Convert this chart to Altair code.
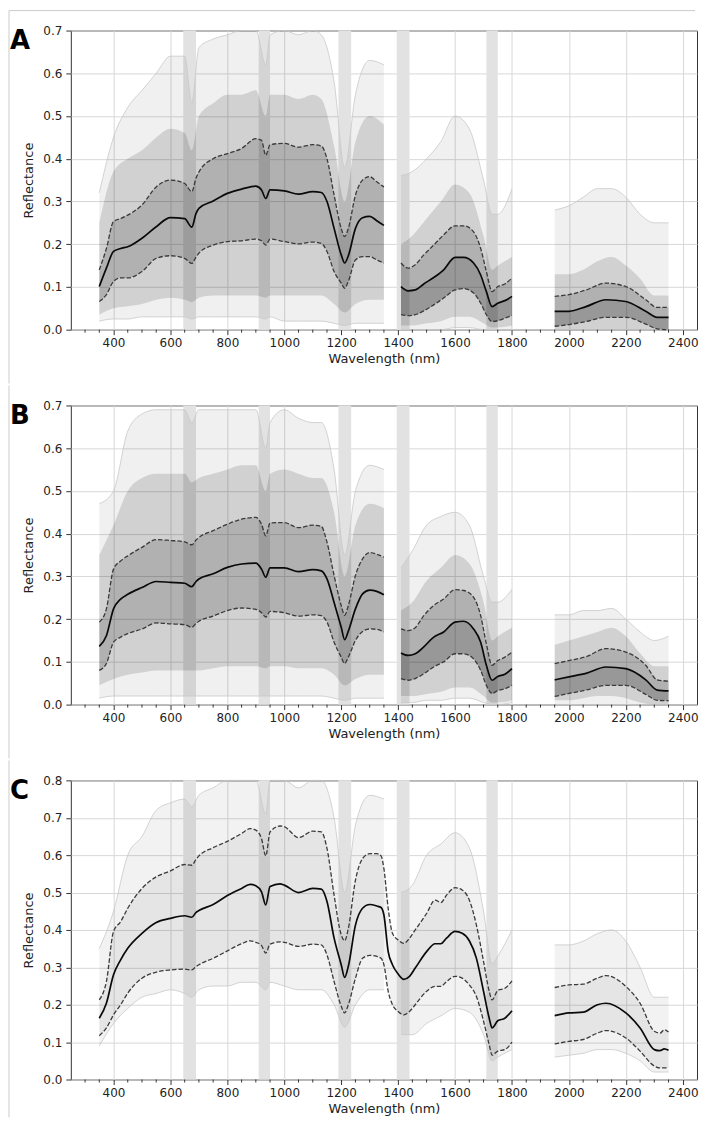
import altair as alt
import pandas as pd

# ---------------- data ----------------
X_TICKS = [400, 600, 800, 1000, 1200, 1400, 1600, 1800, 2000, 2200, 2400]
X_MINOR = [300, 350, 450, 500, 550, 650, 700, 750, 850, 900, 950, 1050, 1100, 1150,
           1250, 1300, 1350, 1450, 1500, 1550, 1650, 1700, 1750, 1850, 1900, 1950,
           2050, 2100, 2150, 2250, 2300, 2350]
BAND_START = [645, 910, 1190, 1395, 1710]
BAND_END = [690, 950, 1235, 1440, 1750]

WL_S1 = [350, 375, 400, 425, 450, 500, 550, 600, 650, 675, 690, 700, 750, 800, 850,
         900, 920, 935, 950, 1000, 1050, 1100, 1130, 1150, 1175, 1200, 1212, 1225,
         1250, 1275, 1300, 1325, 1350]
WL_S2 = [1410, 1435, 1460, 1490, 1525, 1560, 1600, 1630, 1665, 1690, 1710, 1730, 1750, 1775, 1800]
WL_S3 = [1950, 2000, 2060, 2130, 2200, 2270, 2310, 2350]

A_MEAN_S1 = [0.101, 0.144, 0.183, 0.190, 0.194, 0.214, 0.241, 0.262, 0.260, 0.240, 0.272, 0.284,
             0.301, 0.319, 0.329, 0.336, 0.327, 0.307, 0.327, 0.325, 0.317, 0.323, 0.321, 0.300,
             0.237, 0.175, 0.156, 0.173, 0.237, 0.262, 0.265, 0.255, 0.244]
A_UP_S1 = [0.140, 0.190, 0.253, 0.260, 0.268, 0.292, 0.334, 0.350, 0.342, 0.323, 0.355, 0.369,
           0.400, 0.412, 0.424, 0.447, 0.443, 0.408, 0.433, 0.436, 0.427, 0.433, 0.430, 0.400,
           0.315, 0.237, 0.218, 0.237, 0.315, 0.350, 0.358, 0.346, 0.334]
A_LO_S1 = [0.066, 0.082, 0.113, 0.121, 0.121, 0.136, 0.167, 0.173, 0.167, 0.155, 0.170, 0.179,
           0.198, 0.206, 0.208, 0.212, 0.208, 0.198, 0.212, 0.206, 0.201, 0.205, 0.202, 0.183,
           0.136, 0.109, 0.097, 0.113, 0.163, 0.171, 0.171, 0.163, 0.156]
A_MEAN_S2 = [0.101, 0.091, 0.093, 0.107, 0.122, 0.140, 0.169, 0.169, 0.156, 0.128, 0.089, 0.054, 0.062, 0.068, 0.078]
A_UP_S2 = [0.156, 0.144, 0.152, 0.175, 0.198, 0.222, 0.243, 0.243, 0.229, 0.190, 0.136, 0.089, 0.101, 0.107, 0.121]
A_LO_S2 = [0.035, 0.033, 0.035, 0.044, 0.058, 0.074, 0.093, 0.096, 0.086, 0.062, 0.035, 0.019, 0.021, 0.027, 0.033]
A_MEAN_S3 = [0.043, 0.043, 0.054, 0.070, 0.066, 0.043, 0.029, 0.029]
A_UP_S3 = [0.078, 0.082, 0.093, 0.109, 0.101, 0.070, 0.052, 0.052]
A_LO_S3 = [0.008, 0.012, 0.019, 0.029, 0.029, 0.013, 0.002, 0.000]

B_MEAN_S1 = [0.136, 0.161, 0.224, 0.247, 0.258, 0.274, 0.288, 0.286, 0.284, 0.276, 0.288, 0.294,
             0.306, 0.321, 0.329, 0.331, 0.317, 0.298, 0.320, 0.320, 0.311, 0.316, 0.313, 0.294,
             0.239, 0.181, 0.152, 0.172, 0.224, 0.259, 0.268, 0.265, 0.257]
B_UP_S1 = [0.193, 0.224, 0.317, 0.336, 0.348, 0.368, 0.386, 0.384, 0.381, 0.374, 0.385, 0.391,
           0.407, 0.422, 0.434, 0.438, 0.422, 0.395, 0.425, 0.426, 0.414, 0.420, 0.417, 0.380,
           0.302, 0.232, 0.209, 0.232, 0.302, 0.341, 0.356, 0.352, 0.345]
B_LO_S1 = [0.080, 0.096, 0.146, 0.158, 0.166, 0.177, 0.191, 0.189, 0.187, 0.181, 0.190, 0.195,
           0.207, 0.220, 0.226, 0.223, 0.215, 0.205, 0.218, 0.215, 0.207, 0.210, 0.208, 0.193,
           0.146, 0.111, 0.096, 0.111, 0.150, 0.171, 0.177, 0.176, 0.170]
B_MEAN_S2 = [0.121, 0.115, 0.119, 0.135, 0.158, 0.170, 0.193, 0.195, 0.177, 0.146, 0.092, 0.057, 0.066, 0.071, 0.084]
B_UP_S2 = [0.177, 0.173, 0.180, 0.208, 0.232, 0.247, 0.269, 0.267, 0.251, 0.208, 0.142, 0.092, 0.103, 0.111, 0.123]
B_LO_S2 = [0.061, 0.057, 0.061, 0.072, 0.088, 0.100, 0.119, 0.119, 0.107, 0.080, 0.045, 0.026, 0.033, 0.037, 0.045]
B_MEAN_S3 = [0.058, 0.065, 0.073, 0.088, 0.084, 0.058, 0.034, 0.032]
B_UP_S3 = [0.096, 0.103, 0.112, 0.131, 0.123, 0.092, 0.058, 0.055]
B_LO_S3 = [0.019, 0.026, 0.034, 0.045, 0.045, 0.024, 0.010, 0.009]

WL_C1 = [350, 375, 400, 425, 450, 500, 550, 600, 650, 675, 690, 700, 750, 800, 850,
         880, 900, 920, 935, 950, 985, 1000, 1050, 1100, 1130, 1150, 1175, 1200, 1212, 1225,
         1250, 1275, 1300, 1325, 1340, 1350, 1365, 1380, 1400, 1420, 1440, 1460, 1500, 1530,
         1550, 1570, 1600, 1625, 1650, 1675, 1700, 1720, 1730, 1750, 1775, 1800]
WL_C3 = [1950, 2000, 2050, 2100, 2130, 2200, 2250, 2300, 2320, 2335, 2350]
C_MEAN_S1 = [0.164, 0.204, 0.280, 0.320, 0.351, 0.391, 0.420, 0.431, 0.438, 0.434, 0.447, 0.452,
             0.468, 0.492, 0.511, 0.522, 0.518, 0.502, 0.467, 0.516, 0.523, 0.520, 0.500, 0.511,
             0.509, 0.476, 0.378, 0.307, 0.273, 0.303, 0.413, 0.458, 0.468, 0.464, 0.460, 0.440,
             0.342, 0.307, 0.282, 0.268, 0.276, 0.298, 0.342, 0.363, 0.363, 0.378, 0.396, 0.391,
             0.371, 0.324, 0.236, 0.164, 0.138, 0.157, 0.164, 0.184]
C_UP_S1 = [0.213, 0.262, 0.396, 0.422, 0.458, 0.511, 0.542, 0.558, 0.575, 0.573, 0.589, 0.598,
           0.620, 0.637, 0.658, 0.671, 0.667, 0.644, 0.598, 0.662, 0.678, 0.676, 0.647, 0.664,
           0.662, 0.618, 0.493, 0.387, 0.371, 0.404, 0.533, 0.591, 0.604, 0.604, 0.598, 0.564,
           0.458, 0.391, 0.373, 0.364, 0.378, 0.400, 0.444, 0.480, 0.473, 0.493, 0.513, 0.507,
           0.480, 0.413, 0.316, 0.236, 0.213, 0.238, 0.244, 0.264]
C_LO_S1 = [0.117, 0.138, 0.173, 0.200, 0.231, 0.271, 0.287, 0.293, 0.295, 0.293, 0.302, 0.307,
           0.324, 0.344, 0.363, 0.371, 0.367, 0.358, 0.338, 0.362, 0.368, 0.367, 0.356, 0.362,
           0.360, 0.333, 0.262, 0.196, 0.178, 0.200, 0.271, 0.324, 0.332, 0.329, 0.324, 0.307,
           0.236, 0.200, 0.182, 0.173, 0.182, 0.200, 0.236, 0.249, 0.249, 0.262, 0.276, 0.271,
           0.253, 0.222, 0.156, 0.093, 0.065, 0.076, 0.080, 0.100]
C_MEAN_S3 = [0.171, 0.178, 0.180, 0.200, 0.204, 0.178, 0.138, 0.080, 0.077, 0.082, 0.078]
C_UP_S3 = [0.246, 0.253, 0.255, 0.271, 0.278, 0.249, 0.204, 0.129, 0.124, 0.133, 0.127]
C_LO_S3 = [0.095, 0.102, 0.107, 0.124, 0.131, 0.111, 0.076, 0.036, 0.031, 0.031, 0.031]

# envelope of the individual spectra (max / dense top / dense bottom / min)
ENV_S1 = [350, 400, 450, 500, 550, 600, 650, 675, 700, 750, 800, 850, 900, 935, 950, 1000,
          1050, 1100, 1130, 1175, 1212, 1250, 1300, 1350]
ENV_S2 = [1410, 1450, 1500, 1550, 1600, 1650, 1700, 1730, 1750, 1800]
ENV_S3 = [1950, 2000, 2050, 2100, 2150, 2200, 2250, 2300, 2350]

A_MAX_S1 = [0.32, 0.45, 0.52, 0.56, 0.60, 0.64, 0.64, 0.53, 0.66, 0.68, 0.69, 0.70, 0.70, 0.62,
            0.69, 0.70, 0.69, 0.70, 0.69, 0.58, 0.38, 0.55, 0.63, 0.62]
A_HI_S1 = [0.25, 0.37, 0.40, 0.42, 0.45, 0.47, 0.46, 0.42, 0.50, 0.53, 0.55, 0.55, 0.56, 0.50,
           0.55, 0.55, 0.54, 0.55, 0.54, 0.43, 0.30, 0.44, 0.50, 0.48]
A_BOT_S1 = [0.035, 0.050, 0.055, 0.060, 0.070, 0.075, 0.070, 0.065, 0.075, 0.080, 0.080, 0.080,
            0.080, 0.075, 0.080, 0.080, 0.080, 0.080, 0.080, 0.060, 0.040, 0.060, 0.070, 0.070]
A_MIN_S1 = [0.020, 0.025, 0.025, 0.030, 0.030, 0.030, 0.030, 0.025, 0.030, 0.030, 0.030, 0.030,
            0.030, 0.025, 0.030, 0.020, 0.020, 0.020, 0.020, 0.015, 0.010, 0.015, 0.015, 0.015]
A_MAX_S2 = [0.36, 0.37, 0.40, 0.44, 0.50, 0.47, 0.35, 0.27, 0.27, 0.33]
A_HI_S2 = [0.20, 0.22, 0.26, 0.30, 0.34, 0.32, 0.22, 0.14, 0.15, 0.17]
A_BOT_S2 = [0.010, 0.010, 0.015, 0.020, 0.030, 0.030, 0.015, 0.005, 0.005, 0.010]
A_MIN_S2 = [0.0, 0.0, 0.0, 0.0, 0.005, 0.005, 0.0, 0.0, 0.0, 0.0]
A_MAX_S3 = [0.28, 0.29, 0.31, 0.33, 0.33, 0.31, 0.27, 0.25, 0.25]
A_HI_S3 = [0.13, 0.13, 0.14, 0.16, 0.17, 0.15, 0.12, 0.08, 0.08]
A_BOT_S3 = [0.0, 0.0, 0.0, 0.0, 0.0, 0.0, 0.0, 0.0, 0.0]
A_MIN_S3 = [0.0, 0.0, 0.0, 0.0, 0.0, 0.0, 0.0, 0.0, 0.0]

B_MAX_S1 = [0.47, 0.50, 0.64, 0.68, 0.69, 0.69, 0.69, 0.66, 0.69, 0.69, 0.69, 0.69, 0.69, 0.60,
            0.66, 0.69, 0.67, 0.66, 0.66, 0.55, 0.35, 0.50, 0.56, 0.55]
B_HI_S1 = [0.35, 0.42, 0.50, 0.53, 0.54, 0.54, 0.54, 0.52, 0.53, 0.54, 0.55, 0.56, 0.56, 0.50,
           0.54, 0.55, 0.54, 0.53, 0.53, 0.45, 0.30, 0.42, 0.47, 0.46]
B_BOT_S1 = [0.045, 0.060, 0.070, 0.075, 0.080, 0.080, 0.080, 0.080, 0.080, 0.085, 0.090, 0.090,
            0.090, 0.085, 0.090, 0.090, 0.085, 0.085, 0.085, 0.070, 0.045, 0.060, 0.070, 0.070]
B_MIN_S1 = [0.015, 0.020, 0.020, 0.020, 0.020, 0.020, 0.020, 0.020, 0.020, 0.020, 0.020, 0.020,
            0.020, 0.020, 0.020, 0.020, 0.020, 0.020, 0.020, 0.015, 0.010, 0.015, 0.015, 0.015]
B_MAX_S2 = [0.32, 0.36, 0.42, 0.44, 0.45, 0.42, 0.30, 0.24, 0.24, 0.27]
B_HI_S2 = [0.22, 0.24, 0.29, 0.32, 0.35, 0.33, 0.24, 0.15, 0.16, 0.18]
B_BOT_S2 = [0.020, 0.020, 0.025, 0.030, 0.040, 0.040, 0.020, 0.005, 0.005, 0.010]
B_MIN_S2 = [0.005, 0.005, 0.010, 0.010, 0.015, 0.015, 0.005, 0.0, 0.0, 0.005]
B_MAX_S3 = [0.21, 0.21, 0.22, 0.22, 0.225, 0.20, 0.17, 0.15, 0.16]
B_HI_S3 = [0.14, 0.15, 0.16, 0.17, 0.18, 0.16, 0.12, 0.09, 0.09]
B_BOT_S3 = [0.010, 0.010, 0.015, 0.020, 0.020, 0.015, 0.005, 0.0, 0.0]
B_MIN_S3 = [0.0, 0.0, 0.0, 0.0, 0.0, 0.0, 0.0, 0.0, 0.0]

C_MAX_S1 = [0.35, 0.45, 0.60, 0.65, 0.72, 0.74, 0.75, 0.73, 0.76, 0.78, 0.80, 0.80, 0.80, 0.71,
            0.80, 0.80, 0.78, 0.80, 0.80, 0.70, 0.50, 0.68, 0.76, 0.75]
C_MIN_S1 = [0.09, 0.15, 0.19, 0.22, 0.23, 0.24, 0.23, 0.22, 0.24, 0.25, 0.25, 0.26, 0.26, 0.24,
            0.26, 0.25, 0.24, 0.24, 0.24, 0.20, 0.14, 0.20, 0.24, 0.24]
C_MAX_S2 = [0.50, 0.52, 0.60, 0.63, 0.66, 0.62, 0.45, 0.31, 0.33, 0.40]
C_MIN_S2 = [0.12, 0.12, 0.15, 0.17, 0.19, 0.18, 0.12, 0.05, 0.06, 0.08]
C_MAX_S3 = [0.36, 0.36, 0.37, 0.39, 0.40, 0.37, 0.30, 0.22, 0.22]
C_MIN_S3 = [0.06, 0.065, 0.07, 0.08, 0.08, 0.07, 0.05, 0.02, 0.02]

# ---------------- helpers ----------------
W, H = 628, 300
FONT = "DejaVu Sans"


def stats_frame(parts):
    rows = []
    for seg, (wl, mean, up, lo) in enumerate(parts):
        assert len(wl) == len(mean) == len(up) == len(lo)
        for i in range(len(wl)):
            rows.append({"seg": seg, "wl": wl[i], "mean": mean[i], "up": up[i], "lo": lo[i]})
    return pd.DataFrame(rows)


def env_frame(parts):
    rows = []
    for seg, (wl, mx, hi, bot, mn) in enumerate(parts):
        assert len(wl) == len(mx) == len(hi) == len(bot) == len(mn)
        for i in range(len(wl)):
            rows.append({"seg": seg, "wl": wl[i], "mx": mx[i], "hi": hi[i], "bot": bot[i], "mn": mn[i]})
    return pd.DataFrame(rows)


bands_df = pd.DataFrame({"wl": BAND_START, "wl2": BAND_END})
minor_df = pd.DataFrame({"wl": X_MINOR})
one_df = pd.DataFrame({"k": [0]})


def panel(letter, ymax, stats, env, dense, first, frame_bottom):
    xenc = alt.X("wl:Q", scale=alt.Scale(domain=[250, 2450], nice=False, zero=False),
                 axis=alt.Axis(values=X_TICKS, title="Wavelength (nm)", format="d",
                               labelPadding=3, titlePadding=4))
    yticks = [round(i * 0.1, 1) for i in range(int(round(ymax * 10)) + 1)]

    def Y(f):
        return alt.Y(f, type="quantitative",
                     scale=alt.Scale(domain=[0, ymax], nice=False, zero=True),
                     axis=alt.Axis(values=yticks, format=".1f", title="Reflectance",
                                   labelPadding=4, titlePadding=7))

    layers = [
        alt.Chart(bands_df).mark_rect(color="#e2e2e2").encode(
            x=xenc, x2="wl2:Q", y=alt.value(0), y2=alt.value(H)),
    ]
    if dense:
        layers += [
            alt.Chart(env).mark_area(color="#000000", opacity=0.06, interpolate="monotone").encode(
                x=xenc, y=Y("mn"), y2="mx:Q", detail="seg:N"),
            alt.Chart(env).mark_area(color="#000000", opacity=0.13, interpolate="monotone").encode(
                x=xenc, y=Y("bot"), y2="hi:Q", detail="seg:N"),
            alt.Chart(stats).mark_area(color="#000000", opacity=0.15, interpolate="monotone").encode(
                x=xenc, y=Y("lo"), y2="up:Q", detail="seg:N"),
            alt.Chart(stats).transform_filter(alt.datum.seg > 0).mark_area(
                color="#000000", opacity=0.14, interpolate="monotone").encode(
                x=xenc, y=Y("lo"), y2="mean:Q", detail="seg:N"),
        ]
    else:
        layers += [
            alt.Chart(env).mark_area(color="#000000", opacity=0.05, interpolate="monotone").encode(
                x=xenc, y=Y("mn"), y2="mx:Q", detail="seg:N"),
            alt.Chart(stats).mark_area(color="#000000", opacity=0.05, interpolate="monotone").encode(
                x=xenc, y=Y("lo"), y2="up:Q", detail="seg:N"),
        ]
    layers += [
        alt.Chart(env).mark_line(color="#c8c8c8", strokeWidth=0.8, interpolate="monotone").encode(
            x=xenc, y=Y("mx"), detail="seg:N"),
        alt.Chart(env).mark_line(color="#c8c8c8", strokeWidth=0.8, interpolate="monotone").encode(
            x=xenc, y=Y("mn"), detail="seg:N"),
        alt.Chart(stats).mark_line(color="#3a3a3a", strokeWidth=1.3, strokeDash=[4.5, 2],
                                   interpolate="monotone").encode(
            x=xenc, y=Y("up"), detail="seg:N"),
        alt.Chart(stats).mark_line(color="#3a3a3a", strokeWidth=1.3, strokeDash=[4.5, 2],
                                   interpolate="monotone").encode(
            x=xenc, y=Y("lo"), detail="seg:N"),
        alt.Chart(stats).mark_line(color="#0a0a0a", strokeWidth=1.7, interpolate="monotone").encode(
            x=xenc, y=Y("mean"), detail="seg:N"),
        alt.Chart(minor_df).mark_rule(color="#333333", strokeWidth=1).encode(
            x=xenc, y=alt.value(H), y2=alt.value(H + 3)),
        alt.Chart(one_df).mark_text(text=letter, font=FONT, fontSize=26, fontWeight="bold",
                                    align="left", baseline="alphabetic", color="#000000").encode(
            x=alt.value(-61), y=alt.value(19)),
        alt.Chart(one_df).mark_rule(color="#cccccc", strokeWidth=1).encode(
            x=alt.value(-62), y=alt.value(-20), y2=alt.value(frame_bottom)),
    ]
    if first:
        layers.append(
            alt.Chart(one_df).mark_rule(color="#cccccc", strokeWidth=1).encode(
                x=alt.value(-62), x2=alt.value(W - 2), y=alt.value(-20)))
    return alt.layer(*layers).properties(width=W, height=H)


statsA = stats_frame([(WL_S1, A_MEAN_S1, A_UP_S1, A_LO_S1), (WL_S2, A_MEAN_S2, A_UP_S2, A_LO_S2),
                      (WL_S3, A_MEAN_S3, A_UP_S3, A_LO_S3)])
envA = env_frame([(ENV_S1, A_MAX_S1, A_HI_S1, A_BOT_S1, A_MIN_S1),
                  (ENV_S2, A_MAX_S2, A_HI_S2, A_BOT_S2, A_MIN_S2),
                  (ENV_S3, A_MAX_S3, A_HI_S3, A_BOT_S3, A_MIN_S3)])
statsB = stats_frame([(WL_S1, B_MEAN_S1, B_UP_S1, B_LO_S1), (WL_S2, B_MEAN_S2, B_UP_S2, B_LO_S2),
                      (WL_S3, B_MEAN_S3, B_UP_S3, B_LO_S3)])
envB = env_frame([(ENV_S1, B_MAX_S1, B_HI_S1, B_BOT_S1, B_MIN_S1),
                  (ENV_S2, B_MAX_S2, B_HI_S2, B_BOT_S2, B_MIN_S2),
                  (ENV_S3, B_MAX_S3, B_HI_S3, B_BOT_S3, B_MIN_S3)])
statsC = stats_frame([(WL_C1, C_MEAN_S1, C_UP_S1, C_LO_S1), (WL_C3, C_MEAN_S3, C_UP_S3, C_LO_S3)])
envC = env_frame([(ENV_S1, C_MAX_S1, C_MAX_S1, C_MIN_S1, C_MIN_S1),
                  (ENV_S2, C_MAX_S2, C_MAX_S2, C_MIN_S2, C_MIN_S2),
                  (ENV_S3, C_MAX_S3, C_MAX_S3, C_MIN_S3, C_MIN_S3)])

pA = panel("A", 0.7, statsA, envA, True, True, 354)
pB = panel("B", 0.7, statsB, envB, True, False, 354)
pC = panel("C", 0.8, statsC, envC, False, False, 338)

chart = alt.vconcat(pA, pB, pC, spacing=0).properties(
    padding=0
).configure_view(
    stroke="#333333", strokeWidth=1
).configure_axis(
    labelFont=FONT, titleFont=FONT, labelFontSize=12, titleFontSize=13,
    titleFontWeight="normal", labelColor="#222222", titleColor="#222222",
    tickColor="#333333", tickSize=5, domain=False, gridColor="#d8d8d8", gridWidth=1,
)

chart.save("out.html", embed_options={"renderer": "svg", "actions": False})
